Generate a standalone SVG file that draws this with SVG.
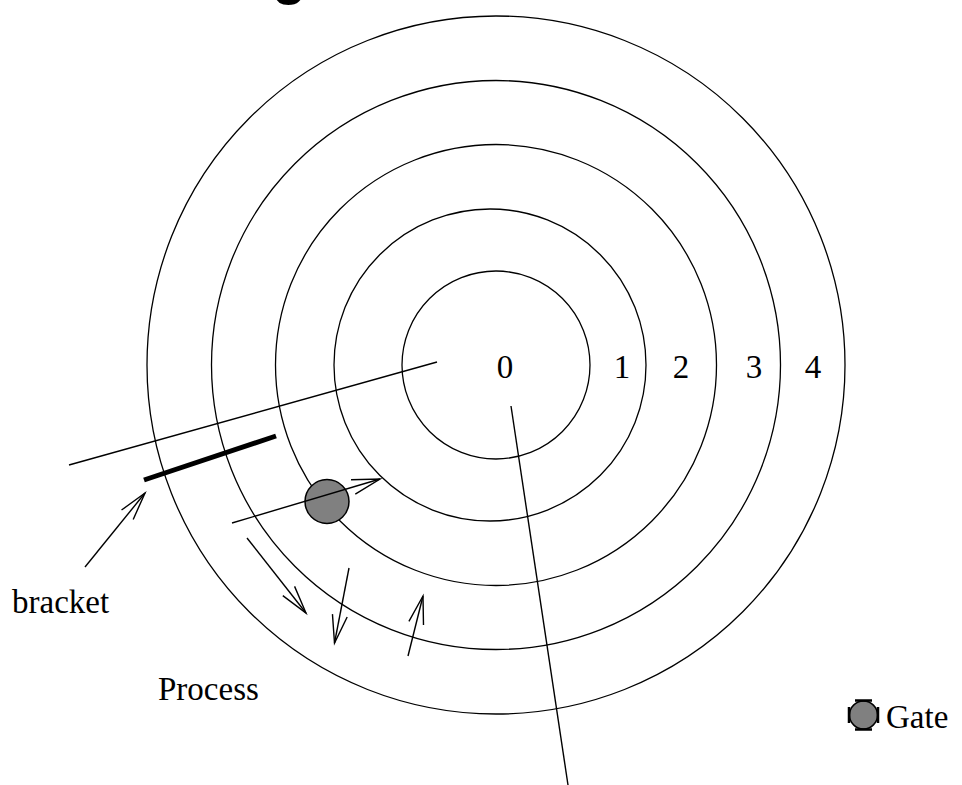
<svg xmlns="http://www.w3.org/2000/svg" width="962" height="785" viewBox="0 0 962 785">
<style>
.ring{fill:none;stroke:#000;stroke-width:1.3}
.ln{fill:none;stroke:#000;stroke-width:1.4}
.lbl{font-family:"Liberation Serif","Times New Roman",serif;font-size:33px;fill:#000}
.gate{fill:#808080;stroke:#000;stroke-width:1.5}
</style>
<defs>
<marker id="ah" markerUnits="userSpaceOnUse" markerWidth="40" markerHeight="24" viewBox="-30 -12 40 24" refX="0" refY="0" orient="auto" overflow="visible">
<path d="M-28,-7.5 L0,0 L-28,7.5" fill="none" stroke="#000" stroke-width="1.4"/>
</marker>
</defs>
<rect width="962" height="785" fill="#fff"/>
<text x="272" y="-7" font-family="'Liberation Sans',Arial,sans-serif" font-weight="bold" font-size="56">g</text>
<g id="rings">
<circle id="ring0" class="ring" cx="496" cy="365" r="94"/>
<circle id="ring1" class="ring" cx="490" cy="365" r="156"/>
<circle id="ring2" class="ring" cx="496" cy="365" r="220.5"/>
<circle id="ring3" class="ring" cx="496" cy="365" r="284.5"/>
<circle id="ring4" class="ring" cx="496" cy="365" r="349"/>
</g>
<g id="labels">
<text class="lbl" x="505" y="378" text-anchor="middle">0</text>
<text class="lbl" x="622" y="378" text-anchor="middle">1</text>
<text class="lbl" x="681" y="378" text-anchor="middle">2</text>
<text class="lbl" x="754" y="378" text-anchor="middle">3</text>
<text class="lbl" x="813" y="378" text-anchor="middle">4</text>
<text class="lbl" x="12" y="613">bracket</text>
<text class="lbl" x="158" y="700">Process</text>
</g>
<g id="bracket">
<line x1="144" y1="480" x2="276" y2="436" stroke="#000" stroke-width="5"/>
</g>
<g id="gate">
<circle class="gate" cx="327" cy="501.5" r="22"/>
</g>
<g id="connectors">
<line class="ln" x1="69" y1="465" x2="437" y2="362"/>
<line class="ln" x1="511" y1="406" x2="568" y2="785"/>
<line class="ln" x1="85" y1="567" x2="145" y2="493" marker-end="url(#ah)"/>
<line class="ln" x1="232" y1="523" x2="380" y2="479" marker-end="url(#ah)"/>
<line class="ln" x1="247" y1="538" x2="306" y2="613" marker-end="url(#ah)"/>
<line class="ln" x1="349" y1="568" x2="334.5" y2="643" marker-end="url(#ah)"/>
<line class="ln" x1="408" y1="656" x2="423" y2="596" marker-end="url(#ah)"/>
</g>
<g id="legend">
<circle class="gate" cx="863.5" cy="715" r="14"/>
<path d="M855,700.5 H872 M855,729.5 H872 M849,707 V723 M878,707 V723" stroke="#000" stroke-width="2.5" fill="none"/>
<text class="lbl" x="886" y="728" font-size="31">Gate</text>
</g>
</svg>
